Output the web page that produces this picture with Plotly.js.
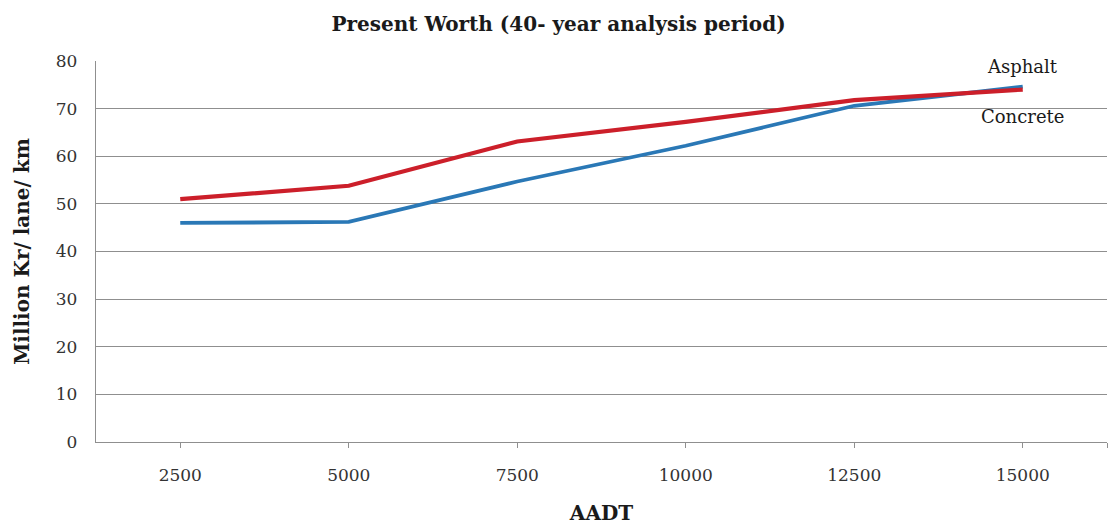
<!DOCTYPE html>
<html>
<head>
<meta charset="utf-8">
<script src="https://cdn.plot.ly/plotly-3.0.1.min.js"></script>
<style>
  html, body { margin: 0; padding: 0; background: #ffffff; }
  #chart { width: 1117px; height: 527px; }
</style>
</head>
<body>
<div id="chart"></div>
<script>
// AADT categories and present worth (million Kr per lane per km)
const aadt = [2500, 5000, 7500, 10000, 12500, 15000];
const aadtLabels = ['2500', '5000', '7500', '10000', '12500', '15000'];
const concreteValues = [51.0, 53.8, 63.1, 67.2, 71.8, 74.0];
const asphaltValues = [46.0, 46.2, 54.7, 62.2, 70.6, 74.6];
const yTickValues = [0, 10, 20, 30, 40, 50, 60, 70, 80];

const serif = '"DejaVu Serif", "Liberation Serif", serif';
const gridGrey = '#8f8f8f';

// half a category step of padding on each side of the x range
const step = aadt[1] - aadt[0];
const xRange = [aadt[0] - step / 2, aadt[aadt.length - 1] + step / 2];

const traces = [
  {
    x: aadt, y: asphaltValues, name: 'Asphalt',
    type: 'scatter', mode: 'lines',
    line: { color: '#2a78b6', width: 3.8 }
  },
  {
    x: aadt, y: concreteValues, name: 'Concrete',
    type: 'scatter', mode: 'lines',
    line: { color: '#cc1f2a', width: 4.2 }
  }
];

const tickPositions = aadt.concat([xRange[1]]);
const tickText = aadtLabels.concat(['']);

const layout = {
  width: 1117, height: 527,
  margin: { l: 96, r: 10, t: 61, b: 85, pad: 0 },
  paper_bgcolor: '#ffffff', plot_bgcolor: '#ffffff',
  showlegend: false,
  font: { family: serif, color: '#222222' },
  title: {
    text: '<b>Present Worth (40- year analysis period)</b>',
    font: { family: serif, size: 20, color: '#1a1a1a' },
    x: 0.5, xanchor: 'center', y: 0.955, yanchor: 'middle'
  },
  xaxis: {
    range: xRange, type: 'linear',
    tickmode: 'array', tickvals: tickPositions, ticktext: tickText,
    ticks: 'outside', ticklen: 5, tickcolor: gridGrey, tickwidth: 1,
    showline: true, linecolor: gridGrey, linewidth: 1.3,
    showgrid: false, zeroline: false,
    ticklabelstandoff: 12,
    tickfont: { family: serif, size: 17, color: '#333333' },
    title: { text: '<b>AADT</b>', standoff: 22, font: { family: serif, size: 20, color: '#1a1a1a' } }
  },
  // same axis again with inward ticks so each tick crosses the axis line
  xaxis2: {
    overlaying: 'x', anchor: 'y', side: 'bottom',
    range: xRange, type: 'linear',
    tickmode: 'array', tickvals: tickPositions,
    ticks: 'inside', ticklen: 5, tickcolor: gridGrey, tickwidth: 1,
    showticklabels: false, showgrid: false, showline: false, zeroline: false
  },
  yaxis: {
    range: [0, 80], tickmode: 'array', tickvals: yTickValues,
    ticks: '', showline: true, linecolor: gridGrey, linewidth: 1.3,
    showgrid: true, gridcolor: gridGrey, gridwidth: 1.1, zeroline: false,
    ticklabelstandoff: 14,
    tickfont: { family: serif, size: 17, color: '#333333' },
    title: { text: '<b>Million Kr/ lane/ km</b>', standoff: 20, font: { family: serif, size: 20, color: '#1a1a1a' } }
  },
  annotations: [
    {
      x: aadt[aadt.length - 1], y: 78.9, xref: 'x', yref: 'y',
      text: 'Asphalt', showarrow: false, xanchor: 'center', yanchor: 'middle',
      font: { family: serif, size: 18, color: '#1a1a1a' }
    },
    {
      x: aadt[aadt.length - 1], y: 68.3, xref: 'x', yref: 'y',
      text: 'Concrete', showarrow: false, xanchor: 'center', yanchor: 'middle',
      font: { family: serif, size: 18, color: '#1a1a1a' }
    }
  ]
};

Plotly.newPlot('chart', traces, layout, { staticPlot: true, displayModeBar: false });
</script>
</body>
</html>
